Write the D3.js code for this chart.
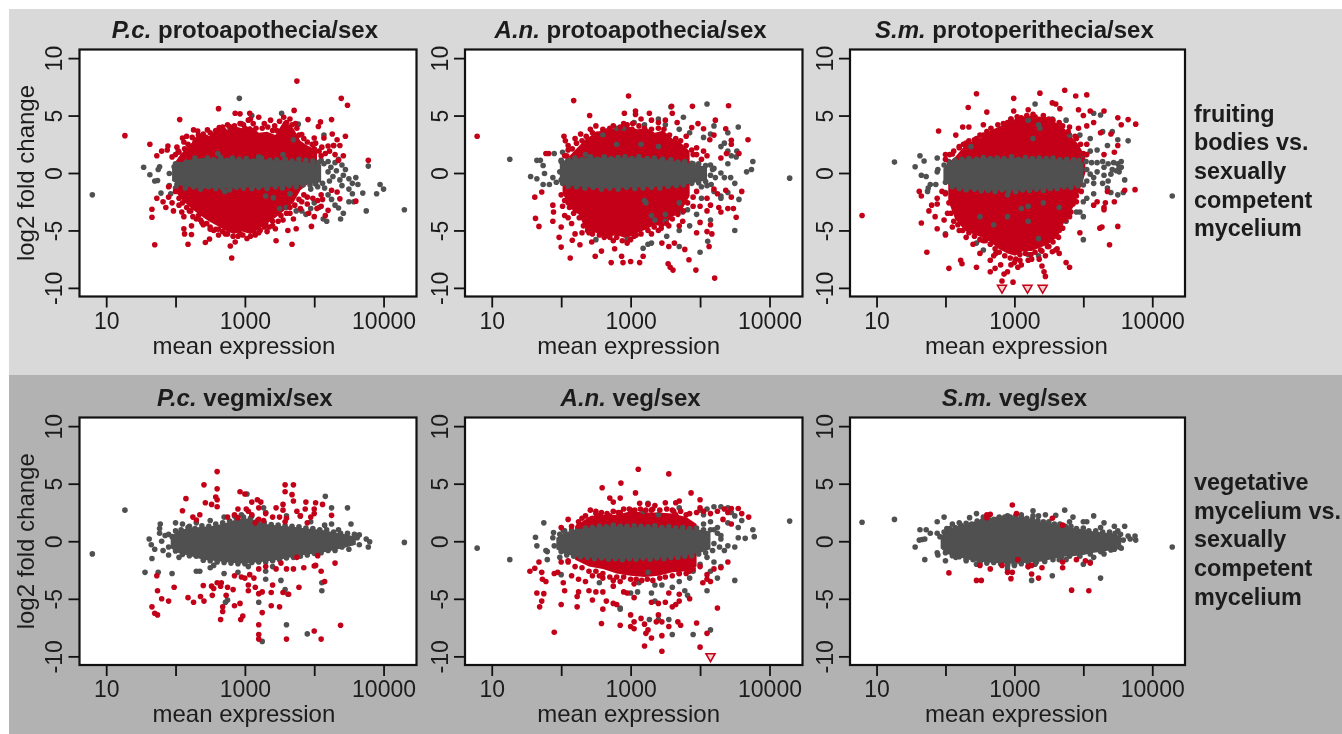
<!DOCTYPE html>
<html>
<head>
<meta charset="utf-8">
<title>MA plots</title>
<script src="https://cdn.jsdelivr.net/npm/d3@7"></script>
<style>
    body { margin: 0; background: #fff; }
    svg { display: block; filter: blur(0.35px); }
    text { font-family: "Liberation Sans", Arial, sans-serif; fill: #1c1c1c; }
</style>
</head>
<body>
<div id="chart"></div>
<script>
// x values are in tick steps of the printed axis (0 = "10", 2 = "1000", 4 = "10000"),
// because the printed labels are not evenly spaced in decades.
// Every value. Where genes overlap into a solid
// mass they can't be read one by one, so the mass is kept as [x, top, bottom] columns.
var xTicks = [0, 1, 2, 3, 4];
var xTickLabels = ["10", "", "1000", "", "10000"];
var yTicks = [-10, -5, 0, 5, 10];
var yTickLabels = ["-10", "-5", "0", "5", "10"];

var titlesItalic = ["P.c.", "A.n.", "S.m.", "P.c.", "A.n.", "S.m."];
var titlesPlain = ["protoapothecia/sex", "protoapothecia/sex", "protoperithecia/sex", "vegmix/sex", "veg/sex", "veg/sex"];
var rowLabelTop = ["fruiting", "bodies vs.", "sexually", "competent", "mycelium"];
var rowLabelBottom = ["vegetative", "mycelium vs.", "sexually", "competent", "mycelium"];

var massRed1 = [[1.0,1,-1.6],[1.07,1.6,-2.2],[1.21,2.5,-3],[1.36,3.3,-3.7],[1.48,3.2,-4.2],[1.6,3.8,-4.6],[1.72,3.7,-5],[1.84,4.1,-5.3],[1.96,3.9,-5.1],[2.08,4.1,-5.3],[2.2,3.5,-4.9],[2.32,3.6,-4.4],[2.44,3.3,-3.9],[2.56,4.5,-3.3],[2.7,3.9,-2.6],[2.8,2.8,-1.5],[2.9,2.4,-1],[3.04,2,0]];
var massGray1 = [[0.95,0.6,-0.7],[1.05,1,-1],[1.2,1.15,-1.25],[1.4,1.3,-1.35],[1.6,1.25,-1.3],[1.8,1.25,-1.35],[2,1.2,-1.25],[2.2,1.25,-1.3],[2.4,1.1,-1.2],[2.6,1.1,-1.15],[2.8,1,-1.05],[2.95,0.9,-0.95],[3.1,0.7,-0.8]];
var gray1 = [[-0.2,-1.9],[4.3,-3.2],[1.92,6.5],[0.54,0.5],[0.63,-0.15],[0.7,-0.7],[0.74,-0.65],[0.75,0.3],[0.77,0.55],[0.79,-1.75],[0.93,-1.8],[0.91,-1.1],[0.91,-0.05],[0.98,0.55],[1.0,-1.3],[1.05,0.6],[1.1,-0.9],[1.71,-1.6],[1.61,1.7],[1.78,4],[1.95,4.3],[2.1,5],[2.53,5.2],[2.77,4.25],[2.2,1.4],[2.3,-2],[2.41,-2.15],[2.5,-3.1],[2.6,-3],[2.74,-3.3],[2.82,-3.3],[2.88,-3.6],[3.0,-2.6],[3.07,-3],[3.13,-4],[3.18,-4.2],[3.14,3.3],[3.28,2.4],[3.35,1.2],[3.4,0.7],[3.42,-0.2],[3.5,-0.5],[3.55,-0.9],[3.6,-0.4],[3.63,-1],[3.7,-1.75],[3.75,-3.3],[3.5,-2.5],[3.57,-2.5],[3.38,-4],[3.35,-3.05],[3.25,-2.3],[3.2,-1.9],[3.15,-1.3],[3.05,-1.2],[2.95,-1.4],[3.1,1.1],[3.2,1],[3.3,0.9],[3.4,-1.1],[3.5,-1.4],[3.9,-1.8],[3.95,-1.0],[4.0,-1.4],[3.78,0.6],[3.45,0.3],[3.55,-1.8],[3.3,-2.8],[3.42,-3.5],[2.95,-3.1],[2.65,-1.8],[2.55,1.6],[2.7,2.9]];
var grayEdge1 = [[1.0,0.8],[1.12,1.1],[1.2,0.9],[1.28,1.3],[1.38,1.05],[1.46,1.3],[1.55,1.15],[1.65,1.35],[1.74,1.1],[1.82,1.3],[1.92,1.2],[2.02,1.25],[2.12,1.05],[2.24,1.3],[2.36,1.1],[2.46,1.15],[2.58,1.2],[2.68,1.05],[2.78,1.2],[2.88,1.1],[2.98,1.05],[3.06,0.9],[3.14,0.8],[3.24,0.5],[3.32,0.2],[3.2,0.1],[3.27,-0.3],[3.37,-0.6],[3.22,-0.7],[1.02,-1],[1.14,-1.3],[1.26,-1.2],[1.36,-1.4],[1.48,-1.2],[1.58,-1.35],[1.68,-1.3],[1.78,-1.45],[1.88,-1.25],[1.98,-1.3],[2.1,-1.35],[2.2,-1.25],[2.32,-1.35],[2.44,-1.2],[2.54,-1.3],[2.64,-1.1],[2.74,-1.2],[2.84,-1.05],[2.94,-1.05],[3.02,-0.95],[3.12,-0.9]];
var red1 = [[0.27,3.25],[2.75,8],[3.39,6.5],[3.48,5.9],[1.62,5.6],[1.06,4.65],[0.63,2.5],[3.78,1.1],[0.73,1.5],[0.8,1.9],[0.88,2],[0.89,2.35],[1.02,2.25],[1.1,3.05],[1.16,3.2],[1.24,3.1],[1.26,3.75],[1.32,3.65],[1.37,3],[1.46,3.75],[1.55,3.3],[1.68,4],[1.79,4],[1.93,4.3],[2.05,4.6],[2.08,4.7],[1.86,5.2],[1.93,5.15],[2.07,5.2],[2.2,4.85],[2.28,4.3],[2.37,4.6],[2.46,3.7],[2.56,4.85],[2.65,4.7],[2.71,5.45],[2.73,4.3],[2.82,3.35],[2.91,4.65],[3,3.05],[3.09,4.45],[3.06,4.05],[3.14,3.05],[3.25,4.65],[3.26,3.4],[3.33,2.9],[3.45,3.2],[3.37,2.4],[3.28,2.4],[3.2,2.35],[3.42,1.5],[3.11,2.25],[3.16,1.7],[3,2.1],[3.35,1.1],[0.95,1.4],[1.05,1.8],[1.1,1.3],[1.13,2.1],[1.22,2.3],[1.3,2.9],[0.7,-6.25],[0.66,-3.85],[0.66,-3.15],[0.73,-2.2],[0.82,-2.5],[0.86,-3],[0.9,-2.1],[0.95,-2.6],[0.97,-3.3],[1.09,-3.4],[1.12,-3.8],[1.12,-4.85],[1.13,-5.3],[1.23,-4.6],[1.23,-5.35],[1.18,-6.2],[1.43,-6.05],[1.49,-5.75],[1.36,-4.1],[1.55,-5],[1.62,-5.4],[1.72,-5.3],[1.79,-6.35],[1.81,-7.4],[1.86,-6],[1.93,-5.3],[2.03,-5.7],[2.15,-5.4],[2.22,-5],[2.32,-5.1],[2.45,-5.9],[2.44,-4.85],[2.62,-5],[2.68,-6.2],[2.74,-4.85],[2.7,-4],[2.96,-4.65],[2.92,-3.5],[3.04,-3.1],[3.2,-3.25],[3.16,-3.7],[2.82,-2.5],[3.33,-1.65],[3.37,-2.25],[3.6,-2.45],[1.0,-1.6],[1.05,-2.8],[1.15,-2.2],[1.2,-3.3],[1.3,-4],[1.4,-4.5],[1.5,-4.7],[2.4,-4.6],[2.3,-4.4],[2.55,-4.1],[2.65,-3.5],[2.8,-3.1],[2.9,-2.1],[3.1,-1.9],[3.05,-2.4],[0.9,-1.2]];
var redEdge1 = [[1.0,1.6],[1.04,1.9],[1.08,1.2],[1.12,2.7],[1.18,2.5],[1.2,1.8],[1.28,2.7],[1.33,3.3],[1.4,3.4],[1.44,3.1],[1.5,3.5],[1.58,3.7],[1.63,3.95],[1.7,3.7],[1.75,4.2],[1.85,4.1],[1.98,4.2],[2.0,3.9],[2.12,4.3],[2.16,3.9],[2.25,3.9],[2.33,4],[2.4,3.7],[2.43,4.1],[2.5,4.5],[2.6,4.4],[2.62,4.0],[2.68,4.2],[2.75,3.9],[2.78,3.3],[2.85,3],[2.9,2.7],[2.97,2.5],[3.02,2.6],[3.07,1.9],[3.1,1.5],[3.22,1.9],[3.3,1.6],[1.05,-2.2],[1.1,-2.6],[1.16,-3],[1.22,-3.3],[1.25,-3.8],[1.33,-3.7],[1.38,-4.3],[1.45,-4.4],[1.5,-4.9],[1.58,-4.9],[1.62,-4.9],[1.68,-5.1],[1.75,-5.3],[1.83,-5.5],[1.9,-5.5],[1.97,-5.4],[2.08,-5.5],[2.13,-5.1],[2.2,-5.2],[2.28,-4.7],[2.35,-4.7],[2.4,-4.2],[2.48,-4.2],[2.52,-3.7],[2.6,-3.5],[2.65,-3],[2.72,-2.8],[2.78,-2.3],[2.85,-1.9],[2.9,-2.7],[2.98,-2.2],[3.1,-2.9],[3.0,-3.8],[3.12,-2.3],[3.25,-1.5]];

var massRed2 = [[1.02,0.9,-1.8],[1.17,1.8,-3.3],[1.25,2.3,-3.6],[1.36,3,-5],[1.5,3.5,-5.2],[1.65,3.9,-5.6],[1.8,3.8,-5.4],[1.94,4.1,-5.7],[2.1,3.8,-5.2],[2.23,3.9,-4.9],[2.35,3.5,-4.5],[2.47,3.7,-4.7],[2.6,3,-3.8],[2.71,2.7,-3.5],[2.85,1.9,-2]];
var massGray2 = [[0.98,0.8,-0.8],[1.05,1.1,-1.05],[1.2,1.25,-1.15],[1.4,1.35,-1.25],[1.6,1.35,-1.35],[1.8,1.3,-1.3],[2,1.35,-1.25],[2.2,1.3,-1.25],[2.4,1.2,-1.2],[2.6,1.05,-1.1],[2.8,0.9,-1],[3,0.65,-0.75],[3.1,0.55,-0.65]];
var gray2 = [[0.26,1.2],[4.29,-0.45],[3.1,6],[3.55,4],[3.53,1.9],[3.76,1],[3.67,0.1],[3.74,0.3],[3.56,-2.3],[3.5,-5],[3,-6.9],[3.11,-5.95],[0.56,-0.3],[0.65,-0.5],[0.74,0.65],[0.65,1.1],[0.7,1.1],[0.9,1.7],[1.02,1.8],[0.76,-0.05],[0.74,-1],[0.83,-1],[0.93,-0.8],[1,-0.6],[0.88,-0.4],[0.98,0.1],[1.0,1.1],[2.58,5.75],[2.76,4.85],[1.9,3.9],[1.8,3.9],[2.05,4.4],[2.2,4.2],[2.4,4.7],[2.5,4.2],[2.7,3.8],[2.85,3.5],[3.05,3.1],[3.15,3.4],[3.2,4.1],[3.4,3.5],[3.3,2.3],[3.35,2.6],[3.4,1.9],[3.45,1.5],[3.52,1.4],[3.4,0.8],[3.2,0.4],[3.3,0],[3.35,-0.4],[3.1,-1.1],[3.2,-1.6],[3.3,-2],[3.44,-0.4],[3.5,-0.9],[3.3,-2.2],[3.4,-1.7],[3.02,-2.2],[2.82,-3.2],[2.95,-3.6],[2.7,-2.6],[2.75,-3.4],[2.5,-3.6],[2.3,-3.7],[2.2,-2.4],[2.22,-2.6],[2.35,-4.1],[2.5,-4.2],[2.85,-4.6],[2.7,-5],[3.15,-4.1],[2.52,-5.5],[2.25,-6.2],[2.3,-6.1],[2.18,-6.55],[2.7,-6.4],[1.5,-5.8],[1.95,-5.8],[1.6,3.3],[1.8,2.5],[2.15,2.5],[1.35,1.6],[2.4,2.3],[2.75,0.7],[2.9,0.8],[3,0.2],[2.9,-0.3],[3.15,0.7]];
var grayEdge2 = [[1.0,1.0],[1.03,0.6],[1.1,1.2],[1.2,1.3],[1.3,1.15],[1.42,1.4],[1.52,1.2],[1.62,1.4],[1.72,1.25],[1.82,1.35],[1.92,1.4],[2.02,1.25],[2.12,1.4],[2.24,1.25],[2.34,1.3],[2.46,1.2],[2.58,1.15],[2.68,0.95],[2.78,1.0],[2.88,0.85],[2.98,0.8],[3.08,0.65],[3.18,0.3],[3.15,-0.2],[3.22,-0.4],[1.02,-0.9],[1.1,-1.15],[1.22,-1.2],[1.34,-1.3],[1.46,-1.25],[1.58,-1.4],[1.7,-1.3],[1.82,-1.4],[1.94,-1.25],[2.06,-1.35],[2.18,-1.3],[2.3,-1.25],[2.42,-1.3],[2.54,-1.15],[2.66,-1.1],[2.76,-1.05],[2.88,-0.9],[2.98,-0.85],[3.08,-0.75],[3.16,-1.0],[3.02,-1.2]];
var red2 = [[-0.21,3.2],[1.18,6.3],[1.97,6.7],[2.59,5.8],[2.89,5.8],[3.41,5.85],[3.69,2.9],[3.6,-1.6],[3.21,-9.15],[2.94,-8.45],[2.54,-7.9],[2.57,-8.2],[2.61,-8.45],[1.13,-7.4],[1.49,-7.25],[1.72,-7.8],[1.89,-7.8],[2,-7.7],[2.13,-7.8],[1,-6.45],[0.62,-2.1],[0.72,-1.65],[0.63,-3.95],[0.68,-4.65],[0.88,-2.8],[0.89,-3.4],[0.88,-4.2],[1,-4.7],[0.97,-5.6],[1.16,-5.85],[1.27,-6.25],[1.44,-6],[1.58,-6.8],[1.77,-6.6],[1.87,-7.25],[2.18,-7.25],[2.84,-7.55],[2.78,-6.65],[3.13,-6.4],[3.17,-5.3],[3.15,-4.5],[0.78,1.7],[0.82,1.7],[1.04,3.2],[1.06,2.8],[1.1,2.4],[1.08,1.5],[1.2,3],[1.28,3.4],[1.41,5],[1.42,3.8],[1.5,4.1],[1.6,2.9],[1.7,3.9],[1.9,4.3],[1.91,5.2],[2.03,4.3],[2.07,5.4],[2.07,5.1],[2.15,4.7],[2.27,5.2],[2.3,4.6],[2.4,4.4],[2.5,4.6],[2.6,5.2],[2.67,4.4],[2.8,3.2],[2.88,3.95],[2.97,4.3],[3.05,3.85],[3.14,2.9],[3.2,3.3],[3.22,4.6],[3.37,3.85],[3.45,2.85],[3.45,2.5],[3.38,1.7],[2.95,2.2],[3.05,1.9],[3.1,1.5],[2.9,1.6],[3.3,1.3],[3.56,1.7],[3.2,-1.4],[3.25,-1.8],[3.1,-2.2],[3.15,-2.8],[3.27,-3],[3.3,-3.4],[3.4,-3.1],[3.45,-2.1],[3.37,-1.5],[3.48,-3.1],[3.52,-3.85],[3.1,-3.3],[3,-2.9],[2.9,-2.9],[3,-4.3],[2.95,-5.2],[3.1,-5.1],[2.75,-4.2],[2.7,-4.6],[2.55,-4.6],[2.4,-5],[2.3,-5.3],[2.05,-5.5],[1.95,-6.1],[1.75,-5.9],[1.4,-5.2],[1.3,-5.2],[1.2,-5.3],[1.15,-4.4],[1.1,-3.9],[1.05,-3.7],[1.02,-2.9],[1.0,-1.9],[1.1,-2.6],[2.45,-6.1],[2.55,-6.4],[2.63,-6.1]];
var redEdge2 = [[1.05,1.5],[1.1,2],[1.16,2.1],[1.22,2.6],[1.3,2.8],[1.36,3.2],[1.45,3.5],[1.52,3.4],[1.6,3.8],[1.7,3.6],[1.75,4.1],[1.85,4],[1.95,4.2],[2.02,3.8],[2.12,4.1],[2.2,3.9],[2.3,3.8],[2.4,3.9],[2.48,3.8],[2.56,3.3],[2.65,3],[2.72,2.8],[2.8,2.4],[2.88,2],[2.95,1.6],[3.02,1.2],[1.05,-2.4],[1.12,-3],[1.18,-3.5],[1.26,-3.9],[1.32,-4.6],[1.38,-5],[1.45,-5.3],[1.55,-5.4],[1.62,-5.6],[1.7,-5.6],[1.8,-5.6],[1.88,-5.9],[2,-5.8],[2.08,-5.4],[2.15,-5.3],[2.25,-5],[2.34,-4.7],[2.44,-4.8],[2.52,-4.4],[2.6,-4],[2.68,-3.6],[2.76,-3.3],[2.82,-2.6],[2.9,-2.1],[2.95,-1.6]];

var massRed3 = [[1.04,0.9,-2.4],[1.14,1.4,-4],[1.28,2.4,-5],[1.4,2.8,-5.3],[1.52,3.1,-5.6],[1.65,3.7,-6],[1.77,4,-6.6],[1.9,4.4,-7],[2.01,4.7,-7.2],[2.13,4.9,-6.8],[2.25,5,-6.8],[2.37,4.9,-6.5],[2.49,4.85,-6.2],[2.62,4.3,-5.6],[2.73,3.85,-4.2],[2.85,3,-3],[2.93,2.5,-1.8],[3.03,1.4,0]];
var massGray3 = [[0.97,0.4,-0.6],[1.05,0.95,-1.05],[1.2,1.15,-1.35],[1.4,1.25,-1.45],[1.6,1.3,-1.5],[1.8,1.25,-1.5],[2,1.3,-1.5],[2.2,1.25,-1.45],[2.4,1.25,-1.4],[2.6,1.2,-1.3],[2.8,1.1,-1.2],[2.93,1.05,-1.05],[3.0,0.9,-0.8]];
var gray3 = [[0.26,0.95],[4.29,-2],[0.56,0.55],[0.63,1.5],[0.69,1.05],[0.65,-0.2],[0.72,-0.3],[0.88,1.3],[0.89,0.3],[0.88,0.1],[0.78,-1],[0.75,-1.3],[0.74,-1.6],[0.86,-1],[1.0,-1.7],[1.37,2.3],[1.95,4.7],[2.3,6],[2.2,4.6],[2.35,4.2],[2.37,3.9],[2.27,3],[2.55,4.7],[2.75,4.6],[2.8,3.3],[2.95,3.3],[3.1,3],[3.15,5.2],[3.25,5.05],[3.28,3.6],[3.42,3.6],[3.5,2.9],[3.65,2.8],[3.35,2.4],[3.2,2],[3.1,1.9],[3,1.6],[3.55,1],[3.52,0.5],[3.6,-0.6],[3.35,-1.3],[3.4,-1.7],[3.5,-1.9],[3.58,-1.7],[3.15,-1.8],[3.05,-2.2],[3,-2.5],[2.95,-3.4],[2.9,-3.4],[3,-3.8],[2.75,-4.2],[3.0,-5.8],[2.65,-3],[2.42,-2.6],[2.2,-2.9],[2.1,-3.1],[1.9,-1.9],[1.5,-3.8],[1.9,-3.8],[1.7,-4.5],[2.2,-4.2],[2.35,-5.7],[2.2,-7.1],[1.55,-6.7],[1.0,-5.3],[1.45,-6.1],[2.35,-7.2]];
var grayEdge3 = [[0.98,0.7],[1.05,1],[1.14,1.1],[1.24,1.2],[1.34,1.25],[1.45,1.2],[1.55,1.35],[1.65,1.25],[1.75,1.3],[1.85,1.25],[1.96,1.4],[2.06,1.2],[2.16,1.35],[2.26,1.25],[2.36,1.3],[2.46,1.25],[2.56,1.3],[2.66,1.15],[2.76,1.2],[2.86,1.15],[2.94,1.1],[3.04,1],[3.12,0.9],[3.2,0.9],[3.28,1],[3.36,0.8],[3.44,0.9],[3.5,0.8],[3.55,0.5],[3.48,0.2],[3.52,0.1],[3.42,0.3],[3.3,0.5],[3.2,0.1],[3.1,-0.1],[3.05,0.3],[3.15,-0.4],[3.3,-0.2],[3.4,-0.1],[3.05,-0.7],[3.15,-0.9],[3.28,-0.9],[3.36,-0.7],[1,-0.8],[1.1,-1.2],[1.2,-1.35],[1.3,-1.45],[1.42,-1.4],[1.52,-1.55],[1.62,-1.5],[1.72,-1.6],[1.82,-1.45],[1.92,-1.55],[2.02,-1.6],[2.12,-1.45],[2.22,-1.5],[2.32,-1.4],[2.42,-1.5],[2.52,-1.35],[2.62,-1.35],[2.72,-1.2],[2.82,-1.25],[2.92,-1.1],[3.0,-1.05]];
var red3 = [[-0.21,-3.7],[1.45,6.9],[1.99,6.5],[2.37,6.95],[2.73,7.2],[2.89,6.7],[3.05,6.8],[1.33,5.7],[1.6,5.3],[1.99,5.4],[2.2,5.5],[2.55,6.1],[2.6,6],[2.66,5.6],[2.93,5.5],[3.0,5],[3.1,5.4],[3.3,5.4],[3.5,4.8],[3.55,4.2],[3.65,4.65],[3.76,4.25],[1.34,4],[1.25,4],[0.9,3.65],[1.55,4.2],[1.15,3.3],[1.0,1.6],[1.1,1.65],[1.2,2.2],[1.3,2.6],[1.45,3],[1.55,3.3],[1.7,3.5],[1.9,4.4],[2.1,4.8],[2.3,4.9],[2.5,4.7],[2.65,4.4],[2.8,4],[2.93,3.9],[3.05,4.1],[3.15,4.4],[3.25,3.5],[3.4,3.4],[3.5,2.4],[3.45,1.8],[3.3,1.6],[3.05,2.5],[3,1.7],[2.9,3],[3.35,-1.6],[3.6,-1.5],[3.75,-1.45],[3.32,-2.6],[3.2,-2.5],[3.3,-3],[3.3,-3.2],[3.45,-2.5],[3.5,-4.65],[3.24,-4.8],[3.27,-4.7],[3.38,-6.25],[2.95,-5.2],[2.8,-3.8],[2.65,-5],[2.62,-5.5],[2.65,-7],[2.6,-6.7],[2.55,-6.85],[2.75,-7.8],[2.8,-8.2],[2.5,-6.4],[2.45,-7.2],[2.4,-8.1],[2.43,-8.6],[2.45,-9],[2.2,-7.6],[2.1,-8],[2.05,-8.2],[2,-7.8],[1.98,-9.5],[1.85,-8.8],[1.9,-8.6],[1.8,-8],[1.72,-8.3],[1.65,-8.6],[1.82,-9.4],[1.65,-7.6],[1.73,-7],[1.5,-7],[1.45,-8.2],[1.22,-7.6],[1.24,-7.9],[1.05,-8.3],[0.73,-6.9],[0.65,-4.35],[0.76,-3.3],[0.8,-2.8],[0.85,-3.8],[0.88,-4.85],[0.98,-4.1],[1.03,-3.5],[1.0,-5.4],[1.1,-4.7],[1.2,-5],[1.3,-5.6],[1.4,-6.2],[0.62,-1.6],[0.65,-2],[0.88,-2.2],[0.95,-1.6],[2.75,-2.8],[2.85,-2.7],[2.9,-2],[3.15,-2.8],[0.88,-2.7],[2.62,-6.6],[1.55,-5.9],[2.4,-6.8]];
var redEdge3 = [[1.0,1.2],[1.06,1.6],[1.12,1.9],[1.2,2.3],[1.26,2.5],[1.34,2.8],[1.42,2.9],[1.5,3.3],[1.6,3.6],[1.66,3.9],[1.76,4.2],[1.84,4.3],[1.95,4.7],[2.04,4.9],[2.18,5],[2.27,5.1],[2.42,5],[2.56,4.6],[2.7,4.1],[2.78,3.6],[2.88,3.2],[2.96,2.5],[3.05,1.6],[1.0,-1.8],[1.05,-2.6],[1.08,-3.5],[1.12,-4.2],[1.18,-4.5],[1.25,-5],[1.34,-5.2],[1.42,-5.5],[1.5,-5.8],[1.58,-5.9],[1.65,-6.2],[1.72,-6.6],[1.78,-6.9],[1.86,-7.2],[1.94,-7.4],[2.02,-7.5],[2.08,-7.1],[2.16,-7],[2.24,-7.1],[2.3,-6.9],[2.38,-6.7],[2.48,-6.4],[2.56,-6],[2.64,-5.6],[2.7,-4.8],[2.74,-4.1],[2.82,-3.4],[2.9,-2.5],[2.97,-1.6],[1.7,-7.2],[1.95,-8],[2.08,-7.6],[2.25,-7.5],[2.36,-7.5]];

var massGray4 = [[0.93,0.4,-0.6],[1.05,0.95,-1.05],[1.2,1.15,-1.25],[1.4,1.25,-1.6],[1.55,1.35,-1.7],[1.7,1.55,-1.8],[1.85,1.85,-1.9],[2,2,-1.95],[2.15,1.85,-1.85],[2.3,1.5,-1.75],[2.5,1.35,-1.6],[2.7,1.25,-1.35],[2.9,1.1,-1.15],[3.1,1,-1],[3.3,0.75,-0.75],[3.45,0.6,-0.55],[3.6,0.4,-0.3]];
var gray4 = [[-0.2,-1.1],[0.27,2.7],[4.3,-0.1],[2.03,4.1],[3.16,3.9],[3.25,2.9],[3.48,2.9],[3.53,1.5],[3.25,1.5],[0.62,0.2],[0.65,-0.3],[0.7,-0.7],[0.66,-1.5],[0.56,-2.7],[0.75,-2.7],[0.78,1.5],[0.77,1.1],[0.77,0.7],[0.8,0],[0.95,-2.8],[1.0,1.6],[1.1,1.5],[1.2,1.3],[1.3,1.6],[1.5,1.8],[1.7,2.1],[1.85,2.2],[1.95,2.3],[2.1,2.2],[2.27,2.9],[2.3,2.5],[2.6,2.2],[2.8,2.2],[2.95,1.7],[3.15,1.4],[3.35,1.0],[3.65,0.55],[3.75,0.2],[3.8,-0.05],[3.78,-0.5],[3.65,-0.3],[3.5,-0.7],[0.82,-0.8],[0.9,-1.2],[1.05,-1.4],[1.3,-2.6],[1.35,-2.6],[1.5,-2.3],[1.7,-2.8],[1.9,-2.7],[2.3,-2.6],[2.4,-2.2],[2.52,-3.4],[2.3,-3.3],[2.05,-2.2],[1.75,-5.1],[1.72,-5.3],[2.2,-5.3],[2.58,-4.2],[2.62,-4.6],[2.6,-7.25],[2.9,-8.05],[3.11,-3.6],[3.11,-4.3],[2.25,-8.7],[1.55,-2.1]];
var grayEdge4 = [[0.85,0.5],[0.9,0.6],[0.95,0.4],[1,0.9],[1.08,1],[1.18,1.2],[1.28,1.1],[1.38,1.35],[1.48,1.3],[1.58,1.5],[1.68,1.6],[1.78,1.75],[1.88,1.9],[1.98,2.1],[2.08,2],[2.18,1.8],[2.28,1.6],[2.38,1.45],[2.48,1.4],[2.58,1.35],[2.68,1.3],[2.78,1.25],[2.88,1.15],[2.98,1.1],[3.08,1],[3.18,1],[3.28,0.8],[3.38,0.7],[3.48,0.7],[3.58,0.6],[3.62,0.3],[3.55,-0.1],[3.4,-0.5],[3.3,-0.8],[3.2,-0.8],[3.1,-1],[3,-1.05],[2.9,-1.2],[2.8,-1.3],[2.7,-1.4],[2.6,-1.45],[2.5,-1.6],[2.4,-1.7],[2.3,-1.8],[2.2,-1.8],[2.1,-1.85],[2,-1.95],[1.9,-1.95],[1.8,-1.9],[1.7,-1.85],[1.6,-1.8],[1.5,-1.7],[1.4,-1.65],[1.3,-1.3],[1.2,-1.25],[1.1,-1.15],[1,-0.85],[0.9,-0.5]];
var red4 = [[1.6,6.05],[1.41,4.9],[1.6,4.55],[1.58,3.85],[1.6,3.6],[1.15,3.7],[1.1,2.65],[1.25,2.1],[1.3,1.85],[1.35,2.3],[1.43,3.35],[1.52,3.2],[1.6,3],[1.75,2.1],[1.85,2.3],[1.9,2.05],[1.9,2.8],[1.93,4.3],[2,4.1],[2.02,2.8],[2.05,2.6],[2.1,2.3],[2.1,3.4],[2.18,3.6],[2.2,2.9],[2.23,3.4],[2.3,2.4],[2.2,1.9],[2.15,1.6],[2.27,1.8],[2.45,2.9],[2.4,2.1],[2.5,2.1],[2.55,3.2],[2.55,2.7],[2.58,4.3],[2.58,4.9],[2.7,4.9],[2.68,4.05],[2.7,3.5],[2.6,2.0],[2.58,1.7],[2.87,2.8],[2.75,2.6],[2.8,2.2],[2.9,1.6],[2.95,2.1],[3.0,2.4],[2.88,3.4],[3.02,3.35],[3.12,3.2],[3.0,2.8],[3.25,2.25],[0.73,-3],[0.74,-4.3],[0.66,-5.7],[0.7,-6.25],[0.74,-6.4],[0.8,-5],[0.9,-5.2],[0.98,-4],[1.18,-4.9],[1.26,-5.3],[1.36,-4.8],[1.4,-3.85],[1.41,-5.2],[1.55,-4.1],[1.6,-3.6],[1.65,-3.9],[1.52,-3.9],[1.53,-4.7],[1.68,-5.7],[1.68,-6.1],[1.66,-3.6],[1.75,-4],[1.83,-4.2],[1.73,-4.7],[1.85,-5.6],[1.65,-6.8],[1.94,-6.8],[1.97,-6.5],[1.93,-5.4],[2.05,-3.8],[2.0,-3.2],[1.95,-3.1],[1.85,-3],[2.07,-2.9],[2.13,-3.2],[2.15,-4],[2.2,-4.55],[2.25,-4.4],[2.05,-4.3],[2.2,-2.4],[2.3,-2.2],[2.4,-3.8],[2.45,-2.4],[2.25,-6.2],[2.2,-7.25],[2.2,-8.1],[2.2,-8.5],[2.6,-8.5],[3.0,-7.8],[3.1,-8.5],[3.38,-7.3],[2.5,-5.7],[2.38,-5.6],[2.38,-4.45],[2.55,-4.45],[2.63,-4.6],[2.78,-4],[3,-2.15],[3.1,-2.6],[3.15,-3.5],[3.3,-1.9],[3.05,-1.25],[3.02,-2.1],[2.85,-2.3],[2.7,-2.4],[2.6,-2.4],[2.52,-1.9],[2.75,-1.4]];

var massRed5 = [[1.2,1.3,-1.6],[1.4,2.1,-2.2],[1.6,2.3,-2.4],[1.8,2.3,-2.8],[2,2.6,-3],[2.2,2.5,-3.1],[2.4,2.5,-3],[2.6,2.4,-2.7],[2.8,2.1,-2.6],[2.95,1.5,-2.2]];
var massGray5 = [[0.93,0.3,-0.7],[1.05,0.75,-1.1],[1.2,1,-1.3],[1.4,1.15,-1.4],[1.6,1.25,-1.5],[1.8,1.3,-1.55],[2,1.2,-1.5],[2.2,1.25,-1.45],[2.4,1.2,-1.45],[2.6,1.15,-1.35],[2.8,1.05,-1.2],[3,1,-1],[3.15,0.85,-0.7]];
var gray5 = [[-0.21,-0.6],[0.26,-1.6],[4.29,1.75],[0.75,1.6],[0.63,0.35],[0.65,-0.4],[0.78,-0.8],[0.8,-0.9],[0.8,-1.6],[0.89,0.75],[0.88,0.3],[0.9,-0.4],[1.03,0.95],[1.0,0.45],[0.98,-1.4],[1,-2.9],[1.55,-3.6],[2.12,-3.6],[2.0,-4.5],[2.25,-2.7],[2.35,-3.8],[2.45,-3.8],[2.1,-4.4],[2.3,-4.5],[2.35,-5.2],[1.85,-5.8],[1.85,-5.9],[2.27,-6.8],[2.4,-6.8],[2.55,-6.8],[2.6,-8.1],[2.9,-8.1],[3.15,-7.7],[3.1,-4.3],[2.78,-4.3],[2.82,-4.7],[2.6,-4],[2.7,-3.5],[2.85,-3.2],[3.25,-3.2],[3.5,-3.4],[3.0,-2],[3.15,-2.6],[3.1,-1.4],[3.2,-1.8],[3.3,-2.2],[2.9,-2.6],[3.4,-0.4],[3.5,-0.5],[3.35,-0.8],[3.55,0.3],[3.65,0.25],[3.76,1],[3.78,0.4],[3.6,1.8],[3.5,2.2],[3.45,2.5],[3.55,1.2],[3.4,1.6],[3.3,0.5],[3.2,1],[3.15,1.7],[3.05,1.5],[3.05,2.3],[3.1,2.8],[3.2,3],[3.3,3],[3.4,2.9],[2.7,2.9],[2.25,3.3],[2.18,2.6],[2.4,2.3],[3.0,2.7],[3.25,1.2]];
var grayEdge5 = [[0.98,0.6],[1.05,0.9],[1.15,1],[1.25,1.1],[1.35,1.15],[1.45,1.2],[1.55,1.3],[1.65,1.25],[1.75,1.4],[1.85,1.3],[1.95,1.3],[2.05,1.35],[2.15,1.3],[2.25,1.25],[2.35,1.35],[2.45,1.2],[2.55,1.25],[2.65,1.15],[2.75,1.2],[2.85,1.1],[2.95,1.15],[3.05,1],[3.15,1],[3.25,0.7],[3.3,0.2],[3.2,-0.2],[3.28,-0.5],[3.18,-0.8],[3.08,-1],[2.98,-1.1],[2.88,-1.25],[2.78,-1.3],[2.68,-1.4],[2.58,-1.4],[2.48,-1.5],[2.38,-1.45],[2.28,-1.55],[2.18,-1.45],[2.08,-1.55],[1.98,-1.5],[1.88,-1.6],[1.78,-1.5],[1.68,-1.55],[1.58,-1.45],[1.48,-1.5],[1.38,-1.4],[1.28,-1.35],[1.18,-1.3],[1.08,-1.2],[1,-0.9]];
var red5 = [[2.11,6.25],[2.55,5.85],[1.59,4.65],[1.86,5.05],[2.07,4.2],[2.87,4.2],[1.7,3.75],[1.85,3.75],[1.75,3.4],[3.0,3.6],[2.13,3.3],[2.5,3.35],[2.65,3.35],[2.7,3.5],[2.25,3.2],[2.35,3.1],[1.42,2.7],[1.5,2.4],[1.1,1.9],[1.3,2],[1.0,1.2],[1.15,1.3],[1.25,1.3],[1.45,2],[1.55,2.2],[1.7,2.2],[1.85,2.5],[2,2.7],[2.3,2.7],[2.6,2.7],[2.65,2.3],[2.85,2.4],[2.95,2.5],[3.0,2.9],[3.05,2.6],[3.15,2.4],[3.25,2.6],[3.35,2.8],[3.4,2.5],[3.45,2.85],[3.55,2.85],[3.6,2.4],[3.33,1.9],[3.45,1.5],[3.7,2.1],[0.55,-2.6],[0.62,-2.35],[0.68,-1.8],[0.72,-2.7],[0.73,-3.3],[0.78,-3.5],[0.65,-4.5],[0.75,-4.55],[0.72,-5.2],[0.69,-5.7],[0.9,-2.8],[0.95,-2.7],[1.03,-3.6],[1.05,-4.3],[1,-5.5],[1.0,-1.8],[1.1,-1.8],[1.15,-3],[1.25,-3.3],[1.25,-4.4],[1.23,-4.8],[1.23,-5.7],[0.9,-7.9],[1.35,-3.5],[1.4,-4.3],[1.45,-5.1],[1.5,-4.4],[1.6,-4.4],[1.6,-5.9],[1.58,-7.15],[1.65,-5.2],[1.75,-5.4],[1.8,-5.5],[1.75,-3.9],[1.85,-7.3],[1.9,-4.4],[1.95,-4.5],[2.05,-4.9],[2,-6.4],[2,-7.4],[2.05,-7],[2.05,-7.6],[2.15,-6.7],[2.2,-7.2],[2.22,-8],[2.25,-7.7],[2.3,-8.4],[2.2,-9.1],[2.3,-5.3],[2.4,-5.4],[2.37,-7],[2.45,-8.2],[2.45,-9.55],[2.4,-6.4],[2.45,-7],[2.55,-7.4],[2.5,-5.3],[2.6,-5.7],[2.65,-5.5],[2.7,-5.2],[2.68,-7],[2.72,-7.3],[2.55,-4.5],[2.7,-4.6],[2.85,-5],[2.95,-7.1],[3,-9.2],[3.1,-8],[3.25,-5.8],[3.1,-2.9],[3.1,-3.3],[3.04,-3.6],[3.15,-3.5],[3.2,-2.4],[3.3,-2.3],[3.4,-1.8],[3.0,-2.2],[2.7,-2.8],[2.85,-2.6]];
var redEdge5 = [[1.25,1.7],[1.35,2.2],[1.42,1.9],[1.5,2.6],[1.58,2.5],[1.66,2.4],[1.75,2.6],[1.82,2.5],[1.9,2.8],[1.98,2.8],[2.06,2.7],[2.14,2.8],[2.22,2.7],[2.32,2.8],[2.42,2.7],[2.52,2.8],[2.62,2.6],[2.72,2.6],[2.8,2.3],[1.1,-1.7],[1.2,-2.2],[1.3,-2.3],[1.4,-2.6],[1.5,-2.6],[1.6,-2.8],[1.7,-3.1],[1.8,-3.1],[1.9,-3.1],[2,-3.3],[2.08,-3.3],[2.16,-3.4],[2.24,-3.3],[2.32,-3.4],[2.42,-3.2],[2.5,-3.1],[2.6,-3],[2.7,-2.8],[2.8,-2.8],[2.9,-2.4],[1.45,-3],[1.6,-3.2],[1.75,-3.4],[1.55,-3],[1.85,-3.5],[2.05,-3.7]];

var massGray6 = [[0.93,0.4,-0.6],[1.02,1,-1.1],[1.15,1.25,-1.3],[1.3,1.55,-1.55],[1.45,1.75,-1.75],[1.6,2,-1.85],[1.75,2,-1.9],[1.9,2.1,-1.95],[2.05,2.1,-1.95],[2.2,1.95,-1.85],[2.4,1.7,-1.75],[2.55,1.55,-1.55],[2.7,1.35,-1.35],[2.85,1.15,-1.3],[3,1.05,-1.2],[3.15,0.85,-1],[3.3,0.75,-0.9],[3.45,0.65,-0.7],[3.55,0.4,-0.5]];
var gray6 = [[-0.21,1.65],[0.26,1.9],[4.29,-0.5],[0.56,-0.5],[0.7,-1.6],[0.63,1],[0.72,1],[0.7,0.2],[0.78,0.7],[0.62,0.1],[0.66,0.15],[0.88,1.7],[0.98,2.1],[1.02,1.1],[0.88,-1],[0.89,-1.2],[1.0,-1.7],[0.88,0.7],[1.1,1.5],[1.2,1.6],[1.35,2.05],[1.45,2.4],[1.55,2.1],[1.75,1.9],[1.9,2.2],[2.1,2.3],[2.27,2.65],[2.27,2.2],[2.35,2.2],[2.45,2.3],[2.6,2.25],[2.73,2.7],[2.8,1.7],[2.85,2.1],[3.0,1.7],[3.05,1.7],[3.15,2.2],[3.3,1.6],[3.25,1.2],[3.45,1.3],[3.6,1.3],[3.5,0.9],[3.65,0.45],[3.76,0.1],[3.75,0.45],[3.68,0.2],[3.55,-0.6],[3.45,-0.7],[3.3,-1.1],[3.15,-1.4],[3.1,-1.8],[3.0,-2.0],[3.25,-3.2],[2.55,-3],[2.25,-3.4],[1.9,-2.4],[1.9,-2.1],[2.0,-2.1],[2.2,-2.2],[2.3,-2],[2.65,-1.6],[2.75,-1.6],[1.45,-2],[1.5,-1.9],[1.3,-1.7],[1.15,-1.4]];
var grayEdge6 = [[0.92,0.4],[0.98,0.8],[1.06,1.1],[1.14,1.2],[1.22,1.4],[1.3,1.55],[1.38,1.5],[1.46,1.75],[1.54,1.8],[1.62,2],[1.7,1.9],[1.78,2.1],[1.86,2.1],[1.94,2.1],[2.02,2.2],[2.1,2.1],[2.18,2],[2.26,1.9],[2.34,1.8],[2.42,1.7],[2.5,1.7],[2.58,1.5],[2.66,1.5],[2.74,1.3],[2.82,1.3],[2.9,1.1],[3,1.15],[3.08,0.9],[3.18,0.9],[3.28,0.8],[3.38,0.8],[3.46,0.7],[3.54,0.6],[3.58,0.1],[3.52,-0.5],[3.4,-0.75],[3.25,-0.9],[3.1,-1.1],[2.95,-1.3],[2.8,-1.3],[2.68,-1.4],[2.56,-1.6],[2.44,-1.75],[2.32,-1.8],[2.2,-1.9],[2.1,-1.95],[2,-2],[1.9,-2],[1.8,-1.95],[1.7,-1.85],[1.6,-1.9],[1.5,-1.75],[1.4,-1.6],[1.3,-1.55],[1.2,-1.35],[1.1,-1.25],[1,-1]];
var red6 = [[1.97,3.15],[2.03,2.4],[1.6,2.05],[1.6,2.3],[1.65,2.35],[2.55,2],[2.7,1.4],[1.05,-2.75],[1.5,-2.1],[1.45,-3.4],[1.52,-3.4],[1.65,-2.4],[1.82,-2.1],[1.9,-2.7],[1.97,-2.7],[1.95,-3.25],[2.05,-1.6],[2.2,-2.2],[2.25,-2.1],[2.25,-2.85],[2.35,-3.2],[2.4,-2.3],[2.7,-1.8],[2.7,-2.3],[2.83,-4.25],[2.9,-1.6],[3.03,-1.7],[3.1,-1.9],[3.08,-4.3]];

var trianglesRed3 = [[1.82, -10], [2.19, -10], [2.41, -10]];
var trianglesRed5 = [[3.15, -10]];

var massRedByPanel = [massRed1, massRed2, massRed3, [], massRed5, []];
var massGrayByPanel = [massGray1, massGray2, massGray3, massGray4, massGray5, massGray6];
var grayByPanel = [gray1.concat(grayEdge1), gray2.concat(grayEdge2), gray3.concat(grayEdge3), gray4.concat(grayEdge4), gray5.concat(grayEdge5), gray6.concat(grayEdge6)];
var redByPanel = [red1.concat(redEdge1), red2.concat(redEdge2), red3.concat(redEdge3), red4, red5.concat(redEdge5), red6];
var trianglesByPanel = [[], [], trianglesRed3, [], trianglesRed5, []];

var width = 1342;
var height = 734;
var colLeft = [79.5, 465, 850];
var colRight = [416.5, 802.5, 1185];
var rowTop = [49.5, 417.5];
var rowBottom = [296.5, 665];
var xLabelNudge = [-1, -2, 2];
var red = "#c40018";
var gray = "#505050";
var dotRadius = 2.8;
var tickFont = 23;
var labelFont = 24;

var svg = d3.select("#chart")
    .append("svg")
    .attr("width", width)
    .attr("height", height);

svg.append("rect").attr("x", 9).attr("y", 9).attr("width", width - 9).attr("height", 366).attr("fill", "#d9d9d9");
svg.append("rect").attr("x", 9).attr("y", 375).attr("width", width - 9).attr("height", 359).attr("fill", "#b2b2b2");

function drawMass(g, columns, color, x, y) {
    var area = d3.area()
        .x(function (d) { return x(d[0]); })
        .y0(function (d) { return y(d[2]); })
        .y1(function (d) { return y(d[1]); });
    g.append("path")
        .datum(columns)
        .attr("d", area)
        .attr("fill", color);
}

function drawDots(g, points, color, x, y) {
    g.append("g").selectAll("circle")
        .data(points)
        .enter()
        .append("circle")
        .attr("cx", function (d) { return x(d[0]); })
        .attr("cy", function (d) { return y(d[1]); })
        .attr("r", dotRadius)
        .attr("fill", color);
}

titlesPlain.forEach(function (plain, i) {
    var col = i % 3;
    var row = Math.floor(i / 3);
    var x = d3.scaleLinear().domain([-0.385, 4.475]).range([colLeft[col], colRight[col]]);
    var y = d3.scaleLinear().domain([-10.75, 10.75]).range([rowBottom[row], rowTop[row]]);
    var g = svg.append("g");

    g.append("rect")
        .attr("x", colLeft[col])
        .attr("y", rowTop[row])
        .attr("width", colRight[col] - colLeft[col])
        .attr("height", rowBottom[row] - rowTop[row])
        .attr("fill", "#fff");

    if (massRedByPanel[i].length) drawMass(g, massRedByPanel[i], red, x, y);
    drawMass(g, massGrayByPanel[i], gray, x, y);
    drawDots(g, grayByPanel[i], gray, x, y);
    drawDots(g, redByPanel[i], red, x, y);

    g.append("g").selectAll("path")
        .data(trianglesByPanel[i])
        .enter()
        .append("path")
        .attr("d", d3.symbol().type(d3.symbolTriangle).size(36))
        .attr("transform", function (d) { return "translate(" + x(d[0]) + "," + y(d[1]) + ") rotate(180)"; })
        .attr("fill", "#f4d0d0")
        .attr("stroke", red)
        .attr("stroke-width", 1.5);

    g.append("rect")
        .attr("x", colLeft[col])
        .attr("y", rowTop[row])
        .attr("width", colRight[col] - colLeft[col])
        .attr("height", rowBottom[row] - rowTop[row])
        .attr("fill", "none")
        .attr("stroke", "#111")
        .attr("stroke-width", 2.2);

    var xAxis = g.append("g")
        .attr("transform", "translate(0," + rowBottom[row] + ")")
        .call(d3.axisBottom(x).tickValues(xTicks).tickSize(11).tickFormat(function (d, k) { return xTickLabels[k]; }));
    xAxis.select(".domain").remove();
    xAxis.selectAll("line").attr("stroke", "#111").attr("stroke-width", 1.8);
    xAxis.selectAll("text")
        .attr("y", 32)
        .attr("dy", 0)
        .style("font-size", tickFont + "px")
        .style("font-family", "'Liberation Sans', Arial, sans-serif");

    var yAxis = g.append("g")
        .attr("transform", "translate(" + colLeft[col] + ",0)")
        .call(d3.axisLeft(y).tickValues(yTicks).tickSize(11).tickFormat(function (d, k) { return yTickLabels[k]; }));
    yAxis.select(".domain").remove();
    yAxis.selectAll("line").attr("stroke", "#111").attr("stroke-width", 1.8);
    yAxis.selectAll("text")
        .attr("transform", "rotate(-90)")
        .attr("x", 0)
        .attr("y", -17.5)
        .attr("dy", 0)
        .attr("text-anchor", "middle")
        .style("font-size", tickFont + "px")
        .style("font-family", "'Liberation Sans', Arial, sans-serif");

    // the titles and x labels sit over the "1000" tick, not over the box centre
    var title = g.append("text")
        .attr("x", x(2))
        .attr("y", rowTop[row] - 12)
        .attr("text-anchor", "middle")
        .attr("font-size", labelFont)
        .attr("font-weight", "bold");
    title.append("tspan").attr("font-style", "italic").text(titlesItalic[i]);
    title.append("tspan").text(" " + plain);

    g.append("text")
        .attr("x", x(2) + xLabelNudge[col])
        .attr("y", rowBottom[row] + 57)
        .attr("text-anchor", "middle")
        .attr("font-size", labelFont)
        .text("mean expression");

    if (col === 0) {
        var midY = (rowTop[row] + rowBottom[row]) / 2;
        g.append("text")
            .attr("transform", "translate(34," + midY + ") rotate(-90)")
            .attr("text-anchor", "middle")
            .attr("font-size", labelFont)
            .text("log2 fold change");
    }
});

function drawRowLabel(lines, firstBaseline) {
    svg.append("g").selectAll("text")
        .data(lines)
        .enter()
        .append("text")
        .attr("x", 1194)
        .attr("y", function (d, i) { return firstBaseline + i * 28.7; })
        .attr("font-size", 23.4)
        .attr("font-weight", "bold")
        .text(function (d) { return d; });
}
drawRowLabel(rowLabelTop, 121.5);
drawRowLabel(rowLabelBottom, 490);
</script>
</body>
</html>
